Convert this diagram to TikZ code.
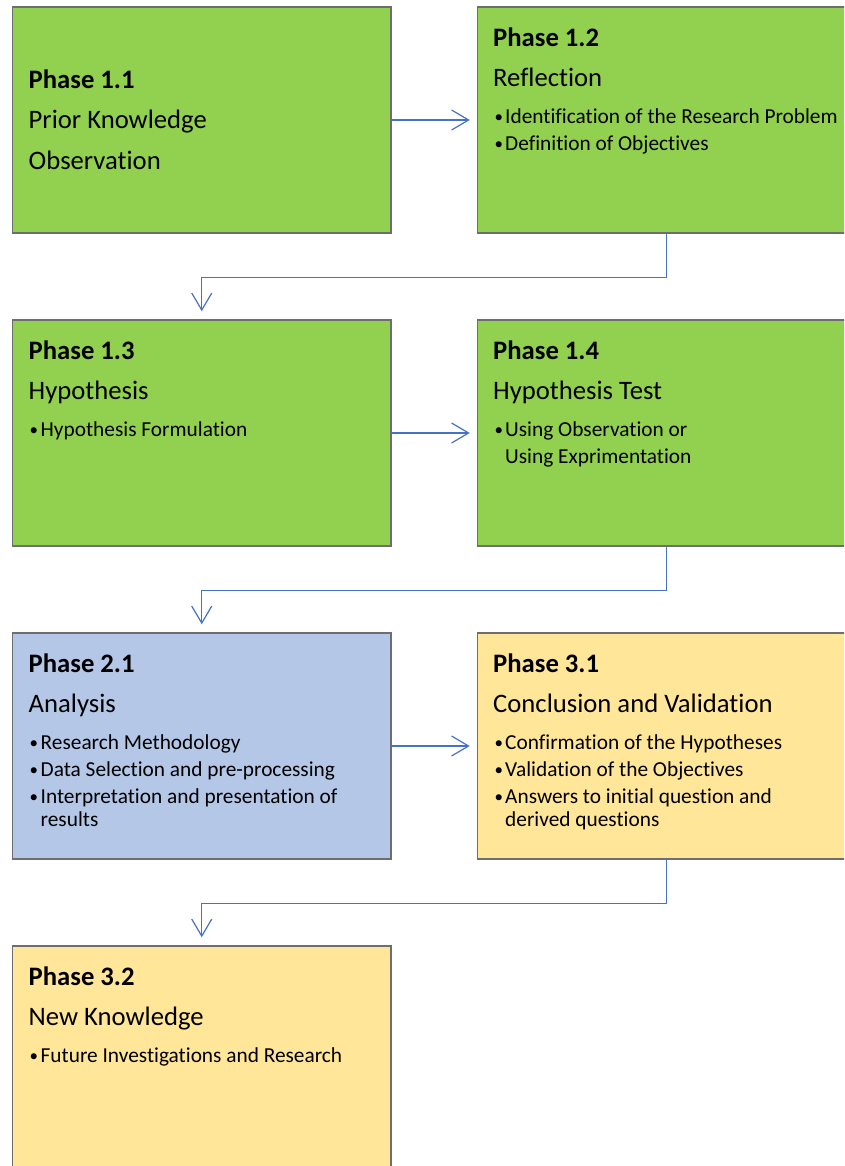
\documentclass[tikz,border=0pt]{standalone}
\usepackage{fontspec}
\setmainfont{Carlito}[Ligatures=NoCommon]
\usetikzlibrary{arrows.meta}
\definecolor{pgreen}{HTML}{92D050}
\definecolor{pblue}{HTML}{B4C7E7}
\definecolor{pyellow}{HTML}{FFE699}
\definecolor{pline}{HTML}{4472C4}
\definecolor{pborder}{HTML}{6E6E6E}
\newcommand{\ttl}{\fontsize{26.67}{32}\selectfont}
\newcommand{\btx}{\fontsize{21.33}{26}\selectfont}
\newcommand{\bdot}{{\fontsize{17}{20}\selectfont\raisebox{1.2pt}{•}}}
\tikzset{
  phasebox/.style={draw=pborder, line width=1.5pt, minimum width=378.5pt, minimum height=226pt, inner sep=0pt},
  titletext/.style={anchor=base west, inner sep=0pt, font=\ttl\bfseries},
  subtext/.style={anchor=base west, inner sep=0pt, font=\ttl},
  bullettext/.style={anchor=base west, inner sep=0pt, font=\btx},
  bulletdot/.style={anchor=base west, inner sep=0pt},
  conn/.style={draw=pline, line width=1.2pt, -{Straight Barb[length=17pt,width=20pt,line width=1.2pt]}}
}
\begin{document}
\begin{tikzpicture}[x=1pt,y=-1pt]
\useasboundingbox (0,0) rectangle (844,1166);
\clip (0,0) rectangle (844,1166);
% boxes
\node[phasebox, fill=pgreen] (b11) at (201.75,120) {};
\node[phasebox, fill=pgreen] (b12) at (666.75,120) {};
\node[phasebox, fill=pgreen] (b13) at (201.75,433) {};
\node[phasebox, fill=pgreen] (b14) at (666.75,433) {};
\node[phasebox, fill=pblue] (b21) at (201.75,746) {};
\node[phasebox, fill=pyellow] (b31) at (666.75,746) {};
\node[phasebox, fill=pyellow] (b32) at (201.75,1059) {};
% Phase 1.1
\node[titletext] (t11a) at (28.5,88.5) {Phase 1.1};
\node[subtext] (t11b) at (28.5,128.5) {Prior Knowledge};
\node[subtext] (t11c) at (28.5,169.5) {Observation};
% Phase 1.2
\node[titletext] (t12a) at (493,46.5) {Phase 1.2};
\node[subtext] (t12b) at (493,86.5) {Reflection};
\node[bulletdot] (d12a) at (494.5,123.5) {\bdot};
\node[bullettext] (t12c) at (505,123.5) {Identification of the Research Problem};
\node[bulletdot] (d12b) at (494.5,150.5) {\bdot};
\node[bullettext] (t12d) at (505,150.5) {Definition of Objectives};
% Phase 1.3
\node[titletext] (t13a) at (28.5,359.5) {Phase 1.3};
\node[subtext] (t13b) at (28.5,399.5) {Hypothesis};
\node[bulletdot] (d13a) at (29.5,436.5) {\bdot};
\node[bullettext] (t13c) at (40.5,436.5) {Hypothesis Formulation};
% Phase 1.4
\node[titletext] (t14a) at (493,359.5) {Phase 1.4};
\node[subtext] (t14b) at (493,399.5) {Hypothesis Test};
\node[bulletdot] (d14a) at (494.5,436.5) {\bdot};
\node[bullettext] (t14c) at (505,436.5) {Using Observation or};
\node[bullettext] (t14d) at (505,463.5) {Using Exprimentation};
% Phase 2.1
\node[titletext] (t21a) at (28.5,672.5) {Phase 2.1};
\node[subtext] (t21b) at (28.5,712.5) {Analysis};
\node[bulletdot] (d21a) at (29.5,749.5) {\bdot};
\node[bullettext] (t21c) at (40.5,749.5) {Research Methodology};
\node[bulletdot] (d21b) at (29.5,776.5) {\bdot};
\node[bullettext] (t21d) at (40.5,776.5) {Data Selection and pre-processing};
\node[bulletdot] (d21c) at (29.5,803.5) {\bdot};
\node[bullettext] (t21e) at (40.5,803.5) {Interpretation and presentation of};
\node[bullettext] (t21f) at (40.5,826.5) {results};
% Phase 3.1
\node[titletext] (t31a) at (493,672.5) {Phase 3.1};
\node[subtext] (t31b) at (493,712.5) {Conclusion and Validation};
\node[bulletdot] (d31a) at (494.5,749.5) {\bdot};
\node[bullettext] (t31c) at (505,749.5) {Confirmation of the Hypotheses};
\node[bulletdot] (d31b) at (494.5,776.5) {\bdot};
\node[bullettext] (t31d) at (505,776.5) {Validation of the Objectives};
\node[bulletdot] (d31c) at (494.5,803.5) {\bdot};
\node[bullettext] (t31e) at (505,803.5) {Answers to initial question and};
\node[bullettext] (t31f) at (505,826.5) {derived questions};
% Phase 3.2
\node[titletext] (t32a) at (28.5,985.5) {Phase 3.2};
\node[subtext] (t32b) at (28.5,1025.5) {New Knowledge};
\node[bulletdot] (d32a) at (29.5,1062.5) {\bdot};
\node[bullettext] (t32c) at (40.5,1062.5) {Future Investigations and Research};
% connectors
\draw[conn, shorten >=7pt] (b11.east) -- (b12.west);
\draw[conn, shorten >=7pt] (b13.east) -- (b14.west);
\draw[conn, shorten >=7pt] (b21.east) -- (b31.west);
\draw[conn, shorten >=8pt] (b12.south) -- ++(0,43.5) -| (b13.north);
\draw[conn, shorten >=8pt] (b14.south) -- ++(0,43.5) -| (b21.north);
\draw[conn, shorten >=8pt] (b31.south) -- ++(0,43.5) -| (b32.north);
\end{tikzpicture}
\end{document}
